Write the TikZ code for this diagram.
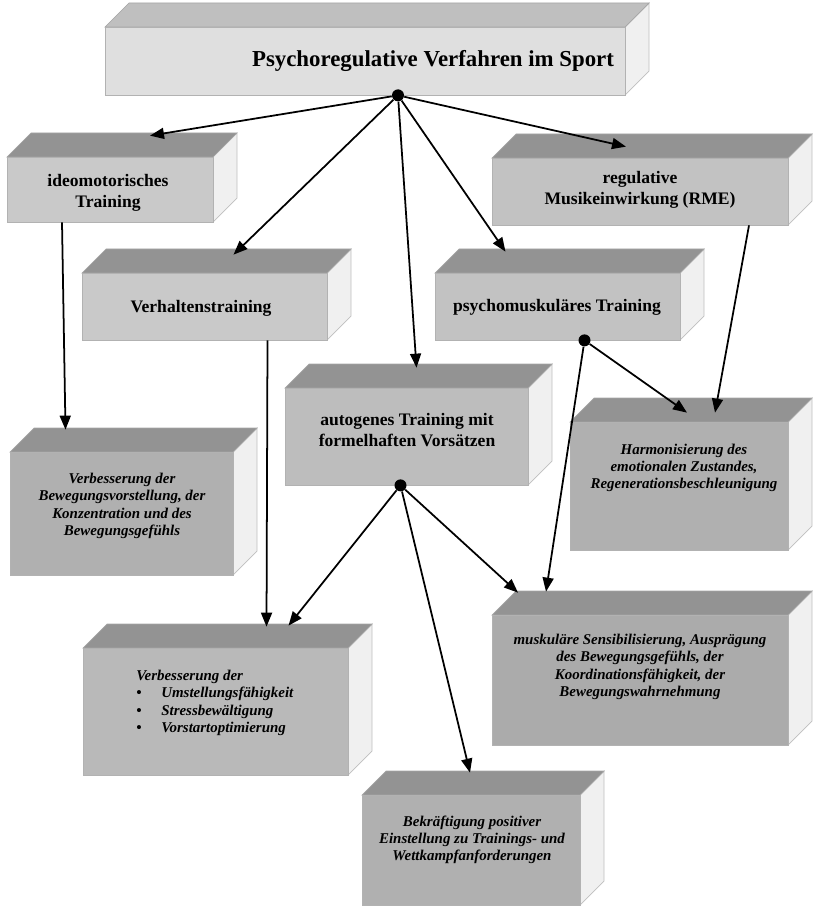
\documentclass[tikz,border=0pt]{standalone}
\usepackage{fontspec}
\setmainfont{Liberation Serif}
\usetikzlibrary{arrows.meta,calc}

\tikzset{
  vorn/.style={fill=#1, draw=gray!60, inner sep=0pt},
  deckel/.style={fill=gray!85, draw=gray!70},
  seite/.style={fill=gray!12, draw=gray!50},
  kat/.style={font=\bfseries\fontsize{10}{12}\selectfont, align=center},
  ziel/.style={font=\bfseries\itshape\fontsize{8.5}{9.8}\selectfont, align=center},
  pfeil/.style={-{Triangle[length=2.8mm,width=2.2mm]}, line width=1pt},
  knoten/.style={circle, fill=black, inner sep=0pt, minimum size=2.4mm}
}

\newcommand{\tief}{24}
% name, x1, y1, x2, y2, farbe der vorderseite
\newcommand{\quader}[6]{%
  \path [seite] (#4,#3) -- ++(\tief,-\tief) -- ++(0,#5-#3) -- (#4,#5) -- cycle;
  \path [deckel] (#2,#3) -- ++(\tief,-\tief) -- ({#4+\tief},{#3-\tief}) -- (#4,#3) -- cycle;
  \node [vorn=#6, minimum width={(#4-#2)*0.2mm}, minimum height={(#5-#3)*0.2mm}] (#1) at ({(#2+#4)/2},{(#3+#5)/2}) {};
}

\begin{document}
\begin{tikzpicture}[x=0.2mm, y=-0.2mm]
  \useasboundingbox (0,0) rectangle (813,908);

  \begin{scope}[deckel/.append style={fill=gray!50}]
    \quader{titel}{105}{27}{625}{95}{gray!25}
  \end{scope}
  \quader{ideo}{7}{157}{213}{222}{gray!42}
  \quader{rme}{492}{158}{788}{225}{gray!48}
  \quader{verh}{82}{273}{327}{340}{gray!42}
  \quader{psycho}{435}{273}{680}{340}{gray!48}
  \quader{autogen}{285}{388}{528}{485}{gray!52}
  \quader{bewvorst}{10}{452}{233}{575}{gray!62}
  \quader{harmon}{570}{422}{788}{550}{gray!62}
  \quader{umstell}{83}{648}{348}{775}{gray!55}
  \quader{muskul}{492}{615}{788}{745}{gray!66}
  \quader{bekr}{362}{795}{580}{905}{gray!62}

  \node [font=\bfseries\fontsize{13}{15}\selectfont] (titeltext) at (433,61) {Psychoregulative Verfahren im Sport};
  \node [kat] (ideotext) at (108,193) {ideomotorisches\\Training};
  \node [kat] (rmetext) at (640,190) {regulative\\Musikeinwirkung (RME)};
  \node [kat] (verhtext) at (201,308) {Verhaltenstraining};
  \node [kat] (psychotext) at (557,307) {psychomuskuläres Training};
  \node [kat] (autogentext) at (407,430) {autogenes Training mit\\formelhaften Vorsätzen};

  \node [ziel] (bewvorsttext) at (122,506) {Verbesserung der\\Bewegungsvorstellung, der\\Konzentration und des\\Bewegungsgefühls};
  \node [ziel] (harmontext) at (684,468) {Harmonisierung des\\emotionalen Zustandes,\\Regenerationsbeschleunigung};
  \node [ziel] (muskultext) at (640,667) {muskuläre Sensibilisierung, Ausprägung\\des Bewegungsgefühls, der\\Koordinationsfähigkeit, der\\Bewegungswahrnehmung};
  \node [ziel, align=left, anchor=north west, inner sep=0pt] (umstelltext) at (136,670) {Verbesserung der\\\makebox[5mm][l]{\textbullet}Umstellungsfähigkeit\\\makebox[5mm][l]{\textbullet}Stressbewältigung\\\makebox[5mm][l]{\textbullet}Vorstartoptimierung};
  \node [ziel] (bekrtext) at (472,840) {Bekräftigung positiver\\Einstellung zu Trainings- und\\Wettkampfanforderungen};

  \node [knoten] (k0) at ($(titel.south)+(33,0)$) {};
  \node [knoten] (k1) at ($(autogen.south)+(-6,0)$) {};
  \node [knoten] (k2) at ($(psycho.south)+(27,0)$) {};

  \draw [pfeil] (k0) -- ($(ideo.north)+(40,-21)$);
  \draw [pfeil] (k0) -- ($(verh.north)+(29,-18)$);
  \draw [pfeil] (k0) -- ($(autogen.north)+(10,-20)$);
  \draw [pfeil] (k0) -- ($(psycho.north)+(-52,-21)$);
  \draw [pfeil] (k0) -- ($(rme.north)+(-14,-11)$);

  \draw [pfeil] ($(ideo.south)+(-48,0)$) -- ($(bewvorst.north)+(-56,-22)$);
  \draw [pfeil] ($(verh.south)+(63,0)$) -- ($(umstell.north)+(51,-21)$);
  \draw [pfeil] ($(rme.south)+(109,0)$) -- ($(harmon.north)+(36,-9)$);

  \draw [pfeil] (k1) -- ($(umstell.north)+(73,-22)$);
  \draw [pfeil] (k1) -- ($(bekr.north)+(-1,-22)$);
  \draw [pfeil] (k1) -- ($(muskul.north)+(-122,-22)$);

  \draw [pfeil] (k2) -- ($(harmon.north)+(8,-9)$);
  \draw [pfeil] (k2) -- ($(muskul.north)+(-94,-23)$);
\end{tikzpicture}
\end{document}
